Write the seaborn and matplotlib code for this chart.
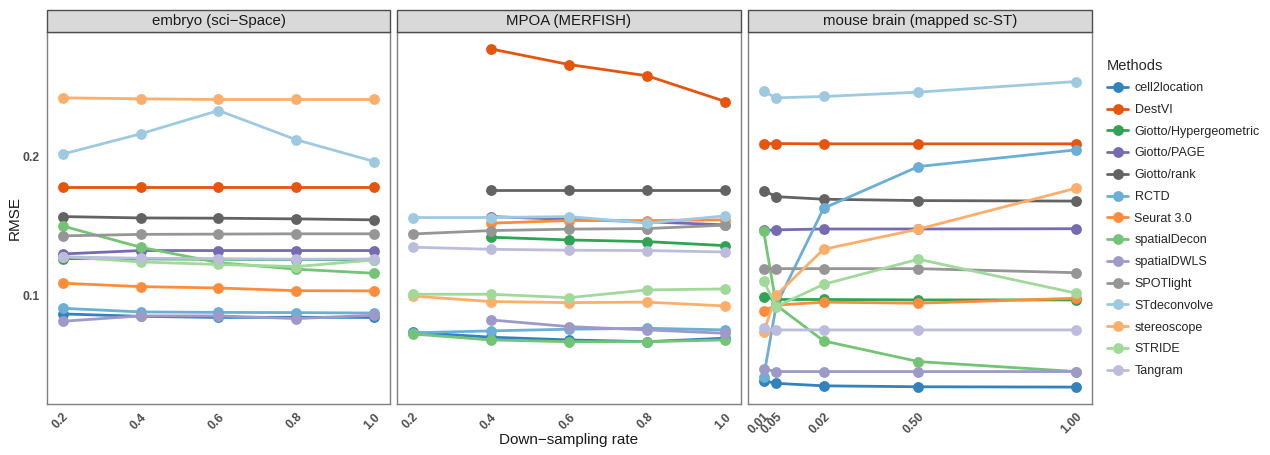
import numpy as np
import pandas as pd
import matplotlib
matplotlib.use("Agg")
import matplotlib.pyplot as plt
import seaborn as sns
from matplotlib.patches import Rectangle
from matplotlib.ticker import FixedLocator, NullLocator, FixedFormatter

nan = np.nan

methods = ["cell2location", "DestVI", "Giotto/Hypergeometric", "Giotto/PAGE",
           "Giotto/rank", "RCTD", "Seurat 3.0", "spatialDecon", "spatialDWLS",
           "SPOTlight", "STdeconvolve", "stereoscope", "STRIDE", "Tangram"]
palette = ["#3182BD", "#E6550D", "#31A354", "#756BB1", "#636363",
           "#6BAED6", "#FD8D3C", "#74C476", "#9E9AC8", "#969696",
           "#9ECAE1", "#FDAE6B", "#A1D99B", "#BCBDDC"]

datasets = ["embryo (sci\u2212Space)", "MPOA (MERFISH)", "mouse brain (mapped sc-ST)"]

embryo_rates = [0.2, 0.4, 0.6, 0.8, 1.0]
mpoa_rates = [0.2, 0.4, 0.6, 0.8, 1.0]
brain_rates = [0.01, 0.05, 0.2, 0.5, 1.0]

embryo_labels = ["0.2", "0.4", "0.6", "0.8", "1.0"]
mpoa_labels = ["0.2", "0.4", "0.6", "0.8", "1.0"]
brain_labels = ["0.01", "0.05", "0.02", "0.50", "1.00"]

# rows follow the order of `methods`
embryo_rmse = [
    [0.0913, 0.0902, 0.0897, 0.0898, 0.0897],
    [0.1720, 0.1720, 0.1720, 0.1720, 0.1720],
    [0.1203, 0.1201, 0.1199, 0.1197, 0.1195],
    [0.1231, 0.1252, 0.1252, 0.1252, 0.1252],
    [0.1483, 0.1473, 0.1471, 0.1466, 0.1459],
    [0.0939, 0.0922, 0.0920, 0.0919, 0.0917],
    [0.1064, 0.1046, 0.1039, 0.1025, 0.1024],
    [0.1415, 0.1273, 0.1179, 0.1141, 0.1118],
    [0.0880, 0.0904, 0.0904, 0.0892, 0.0907],
    [0.1347, 0.1357, 0.1359, 0.1361, 0.1361],
    [0.2024, 0.2240, 0.2516, 0.2174, 0.1951],
    [0.2680, 0.2667, 0.2658, 0.2658, 0.2658],
    [0.1215, 0.1183, 0.1168, 0.1156, 0.1195],
    [0.1213, 0.1205, 0.1202, 0.1199, 0.1200],
]

mpoa_rmse = [
    [0.0833, 0.0813, 0.0802, 0.0795, 0.0809],
    [nan, 0.3420, 0.3164, 0.2991, 0.2631],
    [nan, 0.1338, 0.1320, 0.1309, 0.1283],
    [nan, 0.1483, 0.1462, 0.1445, 0.1423],
    [nan, 0.1694, 0.1694, 0.1694, 0.1694],
    [0.0831, 0.0839, 0.0846, 0.0850, 0.0843],
    [nan, 0.1435, 0.1454, 0.1454, 0.1459],
    [0.0826, 0.0802, 0.0795, 0.0795, 0.0802],
    [nan, 0.0886, 0.0857, 0.0843, 0.0829],
    [0.1360, 0.1383, 0.1393, 0.1397, 0.1421],
    [0.1476, 0.1476, 0.1483, 0.1435, 0.1488],
    [0.0998, 0.0971, 0.0966, 0.0968, 0.0950],
    [0.1007, 0.1007, 0.0990, 0.1029, 0.1034],
    [0.1273, 0.1260, 0.1254, 0.1252, 0.1243],
]

brain_rmse = [
    [0.0654, 0.0646, 0.0638, 0.0635, 0.0634],
    [0.2134, 0.2134, 0.2131, 0.2131, 0.2131],
    [0.0995, 0.0981, 0.0981, 0.0979, 0.0979],
    [0.1385, 0.1388, 0.1394, 0.1394, 0.1396],
    [0.1688, 0.1638, 0.1617, 0.1606, 0.1602],
    [0.0667, 0.0954, 0.1546, 0.1903, 0.2068],
    [0.0927, 0.0954, 0.0968, 0.0963, 0.0987],
    [0.1381, 0.0954, 0.0798, 0.0720, 0.0685],
    [0.0694, 0.0685, 0.0685, 0.0685, 0.0685],
    [0.1144, 0.1144, 0.1144, 0.1144, 0.1121],
    [0.2766, 0.2680, 0.2698, 0.2757, 0.2907],
    [0.0833, 0.1003, 0.1260, 0.1393, 0.1709],
    [0.1076, 0.0947, 0.1058, 0.1199, 0.1012],
    [0.0850, 0.0843, 0.0843, 0.0843, 0.0843],
]

y_breaks = [0.1, 0.2]
y_labels = ["0.1", "0.2"]

panels = [
    (datasets[0], embryo_rates, embryo_labels, embryo_rmse),
    (datasets[1], mpoa_rates, mpoa_labels, mpoa_rmse),
    (datasets[2], brain_rates, brain_labels, brain_rmse),
]

rows = []
for name, rates, _, table in panels:
    for m, vals in zip(methods, table):
        for r, v in zip(rates, vals):
            rows.append((name, m, r, v))
df = pd.DataFrame(rows, columns=["dataset", "method", "rate", "rmse"]).dropna()

sns.set_theme(style="white")
plt.rcParams["font.family"] = ["Liberation Sans", "DejaVu Sans"]

W, H = 1270, 455
fig = plt.figure(figsize=(W / 100, H / 100), dpi=100)

panel_px = [(47, 390), (397, 741), (748, 1092)]
top_px, bottom_px, strip_top_px = 32, 404, 10

# shared log-scale y range with 5% padding
ly = np.log10(df["rmse"].to_numpy())
pad = 0.05 * (ly.max() - ly.min())
ylim = (10 ** (ly.min() - pad), 10 ** (ly.max() + pad))

axes = []
for i, ((name, rates, labels, _), (x0, x1)) in enumerate(zip(panels, panel_px)):
    ax = fig.add_axes([x0 / W, 1 - bottom_px / H, (x1 - x0) / W, (bottom_px - top_px) / H])
    axes.append(ax)
    sub = df[df["dataset"] == name]
    sns.lineplot(data=sub, x="rate", y="rmse", hue="method", hue_order=methods,
                 palette=palette, marker="o", markersize=7.8, markeredgewidth=0,
                 linewidth=2, estimator=None, sort=True, ax=ax, legend=(i == 0))
    ax.set_yscale("log")
    ax.set_ylim(*ylim)
    span = max(rates) - min(rates)
    ax.set_xlim(min(rates) - 0.05 * span, max(rates) + 0.05 * span)
    ax.xaxis.set_major_locator(FixedLocator(rates))
    ax.xaxis.set_major_formatter(FixedFormatter(labels))
    ax.yaxis.set_major_locator(FixedLocator(y_breaks))
    ax.yaxis.set_minor_locator(NullLocator())
    if i == 0:
        ax.yaxis.set_major_formatter(FixedFormatter(y_labels))
    else:
        ax.tick_params(axis="y", left=False, labelleft=False)
    ax.set_xlabel("")
    ax.set_ylabel("")
    for s in ax.spines.values():
        s.set_color("#7F7F7F")
        s.set_linewidth(1.0)
    ax.tick_params(axis="both", which="major", length=3, width=0.8, color="#333333",
                   labelsize=8.8, labelcolor="#4D4D4D", pad=2)
    for lab in ax.get_xticklabels():
        lab.set_rotation(45)
        lab.set_ha("right")
        lab.set_va("top")
        lab.set_rotation_mode("anchor")
        lab.set_fontweight("bold")
    for lab in ax.get_yticklabels():
        lab.set_fontweight("bold")

    # facet strip
    fig.add_artist(Rectangle((x0 / W, 1 - top_px / H), (x1 - x0) / W,
                             (top_px - strip_top_px) / H, transform=fig.transFigure,
                             facecolor="#D9D9D9", edgecolor="#4D4D4D", linewidth=1.0))
    fig.text((x0 + x1) / 2 / W, 1 - (top_px + strip_top_px) / 2 / H, name,
             ha="center", va="center", fontsize=10.8, color="#1A1A1A")

handles, labels_ = axes[0].get_legend_handles_labels()
axes[0].get_legend().remove()
leg = fig.legend(handles, labels_, title="Methods", loc="upper left",
                 bbox_to_anchor=(1102 / W, 1 - 53.5 / H), frameon=False,
                 fontsize=9, title_fontsize=10.5, handlelength=1.7,
                 labelspacing=0.78, handletextpad=0.5, borderaxespad=0)
leg._legend_box.align = "left"

fig.text(15 / W, 1 - 218 / H, "RMSE", rotation=90, ha="center", va="center",
         fontsize=11, color="#1A1A1A")
fig.text(569 / W, 1 - 440 / H, "Down\u2212sampling rate", ha="center", va="center",
         fontsize=11, color="#1A1A1A")

fig.savefig("out.png", dpi=100)
